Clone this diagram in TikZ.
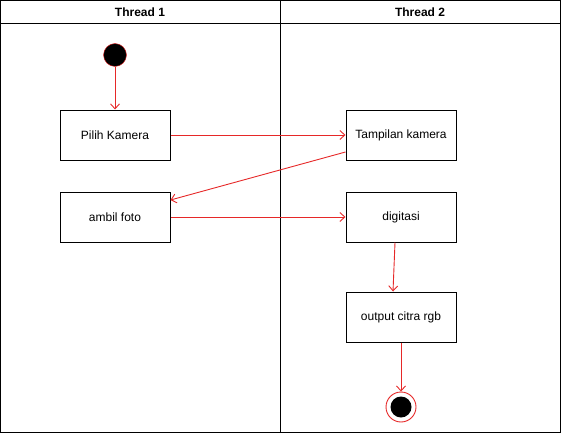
\documentclass[tikz,border=0pt]{standalone}
\usepackage{fontspec}
\setmainfont{Liberation Sans}
\usetikzlibrary{arrows.meta}
\definecolor{flow}{RGB}{230,40,40}
\tikzset{
  act/.style={draw=black, line width=1pt, fill=white, minimum width=110pt, minimum height=50pt, inner sep=0pt, font=\fontsize{12}{14}\selectfont},
  flowline/.style={draw=flow, line width=0.9pt, -{Straight Barb[length=5pt,width=9pt]}},
  lane/.style={draw=black, line width=1pt},
  head/.style={font=\fontsize{12}{14}\selectfont\bfseries}
}
\begin{document}
\begin{tikzpicture}[x=1pt,y=-1pt]
\useasboundingbox (0,0) rectangle (561,433);
\draw[lane] (0.5,0.5) rectangle (560.5,432.5);
\draw[lane] (0.5,23.5) -- (560.5,23.5);
\draw[lane] (280.5,0.5) -- (280.5,432.5);
\node[head] (h1) at (140,12) {Thread 1};
\node[head] (h2) at (420,12) {Thread 2};
\node[circle, fill=black, draw=flow, minimum size=23pt, inner sep=0pt] (start) at (115,55) {};
\node[act] (pilih) at (115,135) {Pilih Kamera};
\node[act] (tamp) at (401,135) {Tampilan kamera};
\node[act] (ambil) at (115,217) {ambil foto};
\node[act] (digi) at (401,217) {digitasi};
\node[act] (out) at (401,317) {output citra rgb};
\node[circle, draw=flow, line width=0.9pt, fill=white, minimum size=30pt, inner sep=0pt] (end) at (401,407) {};
\node[circle, fill=black, minimum size=21pt, inner sep=0pt] (endin) at (end.center) {};
\draw[flowline] (start) -- (pilih);
\draw[flowline] (pilih) -- (tamp);
\draw[flowline] (tamp.west |- 0,152) -- (ambil.east |- 0,200);
\draw[flowline] (ambil) -- (digi);
\draw[flowline] ([xshift=-6pt]digi.south) -- ([xshift=-8pt]out.north);
\draw[flowline] (out) -- (end);
\end{tikzpicture}
\end{document}
